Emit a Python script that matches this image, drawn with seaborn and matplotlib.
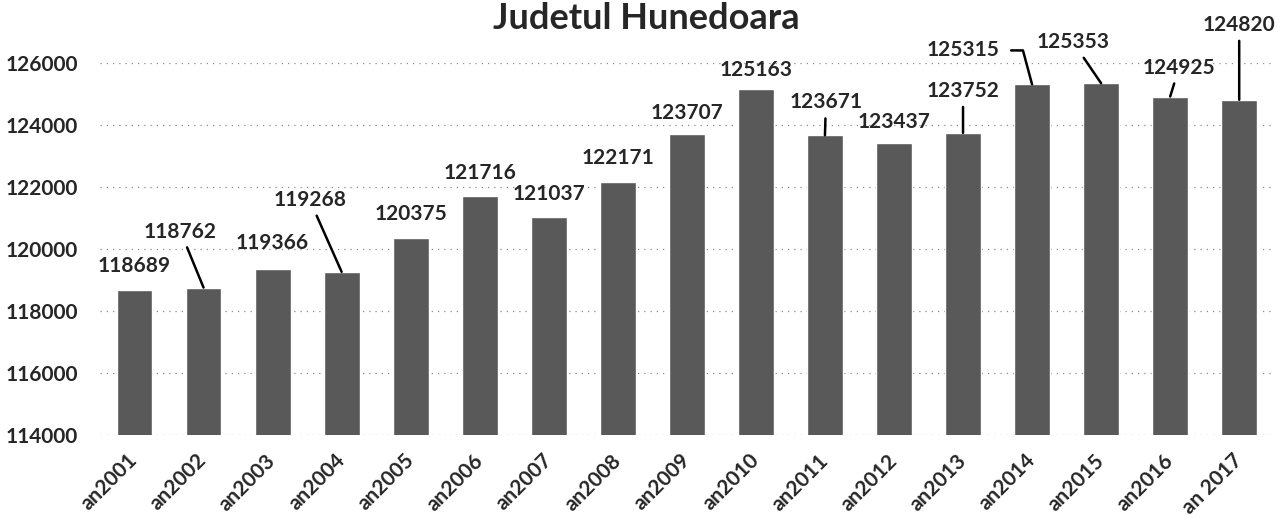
import matplotlib
matplotlib.use("Agg")
import matplotlib.pyplot as plt
import seaborn as sns
import pandas as pd

years = ["an2001", "an2002", "an2003", "an2004", "an2005", "an2006", "an2007", "an2008",
         "an2009", "an2010", "an2011", "an2012", "an2013", "an2014", "an2015", "an2016", "an 2017"]
population = [118689, 118762, 119366, 119268, 120375, 121716, 121037, 122171,
              123707, 125163, 123671, 123437, 123752, 125315, 125353, 124925, 124820]

# decalage des etiquettes (pixels) et type de trait de rappel
label_dx = [0, -23, 0, -32, 0, 0, 0, 0, 0, 0, 1, 0, 0, -69, -28, 9, 0]
label_dy = [24, 56, 26, 72, 24, 23, 23, 24, 21, 19, 33, 21, 42, 34, 41, 29, 75]
leader = ["", "line", "", "line", "", "", "", "",
          "", "", "line", "", "line", "angle", "line", "line", "line"]

df = pd.DataFrame({"an": years, "populatie": population})

sns.set_style("white")
plt.rcParams['font.family'] = ['Lato', 'DejaVu Sans']

fig = plt.figure(figsize=(12.8, 5.18), dpi=100)
ax = fig.add_axes([0.0781, 0.160, 0.917, 0.718])

sns.barplot(data=df, x="an", y="populatie", color="#595959", width=0.52,
            saturation=1, ax=ax)

ax.set_ylim(114000, 126000)
ax.set_yticks(range(114000, 126001, 2000))
ax.grid(axis="y", linestyle=(0, (1, 4)), color="#8c8c8c", linewidth=0.9)
ax.set_axisbelow(True)
for s in ax.spines.values():
    s.set_visible(False)
ax.tick_params(length=0)
ax.set_xlabel("")
ax.set_ylabel("")
for lab in ax.get_yticklabels():
    lab.set_fontsize(15)
    lab.set_fontweight("bold")
ax.set_xticks(range(len(years)))
ax.set_xticklabels(years, rotation=45, ha="right", va="center",
                   rotation_mode="anchor", fontsize=15, fontweight="bold")
ax.tick_params(axis="x", pad=16)
ax.tick_params(axis="y", pad=16)

for i, v in enumerate(population):
    props = None
    if leader[i] == "line":
        props = dict(arrowstyle="-", color="black", lw=1.8, shrinkA=2, shrinkB=0)
    elif leader[i] == "angle":
        props = dict(arrowstyle="-", color="black", lw=1.8, shrinkA=6, shrinkB=0,
                     relpos=(1, 0.5), connectionstyle="angle,angleA=0,angleB=105,rad=0")
    ax.annotate(str(v), xy=(i, v), xytext=(label_dx[i], label_dy[i]),
                textcoords="offset pixels", ha="center", va="center",
                fontsize=15, fontweight="bold", arrowprops=props)

# titre (coupe en haut dans l'original, ici juste visible)
fig.text(0.505, 0.944, "Judetul Hunedoara", ha="center", va="baseline",
         fontsize=26, fontweight="bold")

fig.savefig("out.png", dpi=100)
